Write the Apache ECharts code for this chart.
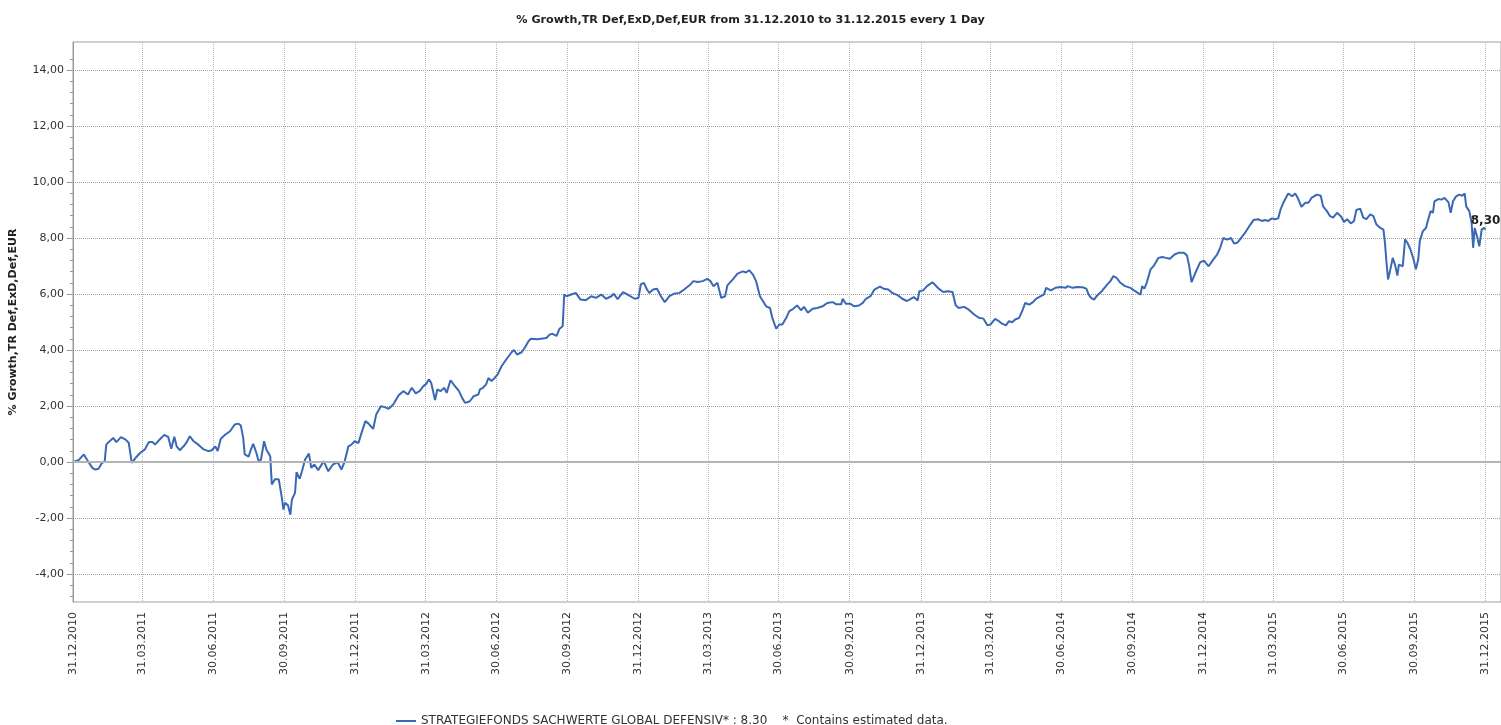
<!DOCTYPE html>
<html>
<head>
  <meta charset="utf-8">
  <script src="https://cdn.jsdelivr.net/npm/echarts@6/dist/echarts.min.js"></script>
  <style>
    html, body { margin: 0; padding: 0; background: #fff; }
    #main { width: 1501px; height: 725px; }
  </style>
</head>
<body>
<div id="main"></div>
<script type="text/javascript">
  // chart data
  var chartTitle = '% Growth,TR Def,ExD,Def,EUR from 31.12.2010 to 31.12.2015 every 1 Day';
  var yName = '% Growth,TR Def,ExD,Def,EUR';
  var seriesName = 'STRATEGIEFONDS SACHWERTE GLOBAL DEFENSIV*';
  var noteText = '*  Contains estimated data.';
  var startDate = '2010-12-31';
  var axisEndDay = 1846;   // right edge of the plot, days after startDate
  var zeroLine = 0;

  var tickLabels = ['31.12.2010', '31.03.2011', '30.06.2011', '30.09.2011', '31.12.2011',
    '31.03.2012', '30.06.2012', '30.09.2012', '31.12.2012', '31.03.2013', '30.06.2013',
    '30.09.2013', '31.12.2013', '31.03.2014', '30.06.2014', '30.09.2014', '31.12.2014',
    '31.03.2015', '30.06.2015', '30.09.2015', '31.12.2015'];
  var yTicks = [-4, -2, 0, 2, 4, 6, 8, 10, 12, 14];
  var yMin = -5, yMax = 15;

  // days after startDate
  var days = [0, 7, 14, 18, 25, 29, 33, 37, 41, 43, 46, 52, 56, 62, 68, 72, 76, 81, 87, 93,
    98, 103, 106, 113, 118, 123, 127, 131, 134, 138, 143, 147, 151, 156, 162, 169, 175, 179, 184, 187,
    191, 197, 203, 209, 214, 217, 220, 222, 227, 230, 233, 237, 240, 243, 247, 250, 253, 255, 257, 261,
    266, 270, 272, 274, 278, 281, 283, 287, 289, 293, 296, 300, 305, 308, 312, 317, 324, 330, 336, 342,
    347, 351, 356, 360, 364, 369, 373, 378, 382, 388, 392, 398, 403, 408, 414, 421, 427, 433, 438, 443,
    448, 453, 457, 460, 463, 468, 471, 475, 480, 483, 488, 493, 499, 503, 507, 513, 518, 524, 526, 530,
    534, 537, 541, 545, 549, 554, 560, 567, 570, 574, 580, 584, 589, 592, 600, 612, 616, 620, 625, 629,
    633, 635, 638, 644, 650, 656, 663, 670, 676, 683, 689, 696, 699, 704, 711, 717, 726, 731, 734, 738,
    742, 745, 750, 755, 760, 765, 771, 777, 784, 790, 797, 802, 808, 814, 820, 824, 828, 833, 838, 843,
    846, 853, 859, 866, 870, 874, 879, 883, 888, 896, 901, 904, 909, 913, 917, 922, 926, 931, 936, 941,
    945, 950, 956, 962, 969, 975, 982, 987, 993, 995, 999, 1005, 1010, 1016, 1021, 1025, 1031, 1036, 1043, 1048,
    1054, 1059, 1066, 1072, 1078, 1083, 1087, 1092, 1094, 1099, 1104, 1111, 1114, 1119, 1125, 1131, 1137, 1141, 1145, 1152,
    1158, 1165, 1171, 1177, 1182, 1186, 1192, 1197, 1201, 1206, 1210, 1214, 1218, 1223, 1227, 1231, 1236, 1241, 1245, 1251,
    1255, 1258, 1264, 1270, 1277, 1283, 1286, 1292, 1298, 1305, 1310, 1313, 1316, 1320, 1324, 1330, 1336, 1341, 1345, 1349,
    1354, 1360, 1367, 1373, 1380, 1382, 1385, 1388, 1393, 1397, 1403, 1408, 1413, 1418, 1424, 1429, 1436, 1440, 1443, 1446,
    1451, 1457, 1462, 1468, 1474, 1479, 1483, 1487, 1492, 1497, 1501, 1505, 1510, 1515, 1522, 1526, 1532, 1537, 1541, 1545,
    1550, 1554, 1558, 1561, 1565, 1569, 1571, 1576, 1580, 1584, 1588, 1593, 1597, 1601, 1608, 1613, 1616, 1621, 1625, 1629,
    1634, 1639, 1643, 1647, 1652, 1656, 1659, 1664, 1668, 1672, 1677, 1681, 1685, 1690, 1694, 1696, 1698, 1700, 1703, 1706,
    1709, 1712, 1714, 1719, 1722, 1725, 1729, 1733, 1736, 1739, 1741, 1745, 1749, 1752, 1755, 1758, 1760, 1765, 1769, 1773,
    1778, 1781, 1784, 1788, 1792, 1796, 1799, 1801, 1805, 1808, 1810, 1812, 1815, 1818, 1821, 1824, 1826];

  // % growth
  var growth = [0.00, 0.06, 0.27, 0.09, -0.21, -0.27, -0.24, -0.05, 0.03, 0.62, 0.71, 0.86, 0.71, 0.89, 0.80, 0.69, -0.03, 0.15, 0.33, 0.45,
    0.71, 0.71, 0.62, 0.83, 0.97, 0.90, 0.47, 0.90, 0.56, 0.42, 0.56, 0.71, 0.92, 0.74, 0.62, 0.45, 0.39, 0.41, 0.56, 0.39,
    0.83, 0.98, 1.10, 1.34, 1.37, 1.30, 0.86, 0.27, 0.19, 0.45, 0.65, 0.33, 0.03, 0.08, 0.74, 0.45, 0.30, 0.20, -0.80, -0.62,
    -0.62, -1.28, -1.70, -1.46, -1.55, -1.88, -1.34, -1.10, -0.36, -0.60, -0.33, 0.09, 0.30, -0.21, -0.09, -0.29, 0.03, -0.33, -0.09, 0.00,
    -0.27, 0.00, 0.56, 0.62, 0.74, 0.68, 1.04, 1.46, 1.37, 1.18, 1.70, 1.99, 1.96, 1.90, 2.05, 2.38, 2.53, 2.41, 2.65, 2.45,
    2.53, 2.71, 2.80, 2.95, 2.83, 2.21, 2.59, 2.53, 2.65, 2.47, 2.92, 2.74, 2.53, 2.29, 2.11, 2.17, 2.35, 2.41, 2.59, 2.65,
    2.77, 3.00, 2.89, 3.00, 3.13, 3.42, 3.66, 3.92, 4.00, 3.84, 3.92, 4.08, 4.32, 4.40, 4.38, 4.43, 4.55, 4.58, 4.50, 4.76,
    4.85, 5.98, 5.92, 5.98, 6.04, 5.80, 5.78, 5.92, 5.86, 5.98, 5.83, 5.92, 6.01, 5.82, 6.07, 5.98, 5.83, 5.86, 6.34, 6.40,
    6.16, 6.04, 6.16, 6.19, 5.92, 5.71, 5.92, 6.01, 6.04, 6.16, 6.31, 6.46, 6.43, 6.46, 6.54, 6.46, 6.28, 6.40, 5.86, 5.92,
    6.31, 6.52, 6.73, 6.81, 6.77, 6.85, 6.69, 6.46, 5.92, 5.56, 5.50, 5.15, 4.76, 4.91, 4.91, 5.15, 5.39, 5.47, 5.59, 5.42,
    5.54, 5.33, 5.47, 5.50, 5.56, 5.68, 5.71, 5.63, 5.63, 5.83, 5.65, 5.65, 5.56, 5.59, 5.68, 5.83, 5.92, 6.16, 6.26, 6.19,
    6.16, 6.04, 5.96, 5.83, 5.75, 5.83, 5.89, 5.77, 6.10, 6.13, 6.28, 6.42, 6.34, 6.19, 6.07, 6.10, 6.07, 5.60, 5.50, 5.54,
    5.44, 5.27, 5.15, 5.12, 4.88, 4.91, 5.11, 5.03, 4.94, 4.88, 5.03, 4.99, 5.09, 5.15, 5.39, 5.68, 5.62, 5.71, 5.83, 5.92,
    5.98, 6.22, 6.13, 6.22, 6.25, 6.22, 6.28, 6.22, 6.25, 6.24, 6.19, 5.98, 5.86, 5.80, 5.95, 6.10, 6.31, 6.46, 6.64, 6.58,
    6.40, 6.28, 6.22, 6.10, 5.98, 6.28, 6.19, 6.40, 6.88, 7.00, 7.29, 7.32, 7.29, 7.26, 7.41, 7.47, 7.47, 7.38, 6.99, 6.42,
    6.76, 7.13, 7.19, 6.99, 7.23, 7.41, 7.65, 8.00, 7.94, 8.00, 7.80, 7.83, 8.00, 8.18, 8.48, 8.64, 8.67, 8.61, 8.64, 8.61,
    8.70, 8.67, 8.70, 9.02, 9.28, 9.49, 9.59, 9.49, 9.59, 9.39, 9.11, 9.26, 9.26, 9.43, 9.55, 9.51, 9.13, 8.96, 8.78, 8.73,
    8.90, 8.78, 8.57, 8.67, 8.52, 8.61, 9.00, 9.05, 8.73, 8.67, 8.84, 8.78, 8.48, 8.36, 8.30, 7.83, 7.11, 6.52, 6.88, 7.29,
    7.05, 6.66, 7.05, 6.99, 7.95, 7.83, 7.59, 7.23, 6.88, 7.23, 7.89, 8.24, 8.36, 8.67, 8.96, 8.90, 9.31, 9.39, 9.37, 9.43,
    9.28, 8.90, 9.31, 9.49, 9.55, 9.51, 9.59, 9.13, 8.96, 8.55, 7.65, 8.36, 8.06, 7.70, 8.30, 8.36, 8.30];

  var DAY = 86400000;
  var t0 = Date.parse(startDate + 'T00:00:00Z');

  function parseDE(s) {
    var p = s.split('.');
    return Date.UTC(+p[2], +p[1] - 1, +p[0]);
  }
  function fmtDE(v) {
    var d = new Date(v);
    var dd = ('0' + d.getUTCDate()).slice(-2);
    var mm = ('0' + (d.getUTCMonth() + 1)).slice(-2);
    return dd + '.' + mm + '.' + d.getUTCFullYear();
  }
  function fmtNum(v) {
    return v.toFixed(2).replace('.', ',');
  }

  var xTicks = tickLabels.map(parseDE);
  var seriesData = days.map(function (d, i) { return [t0 + d * DAY, growth[i]]; });
  var last = seriesData[seriesData.length - 1];

  // minor ticks on the value axis, every 0.4
  var yMinor = [];
  for (var k = 1; k * 0.4 < yMax - yMin; k++) {
    yMinor.push(Math.round((yMin + 0.2 + k * 0.4 - 0.4) * 10) / 10);
  }

  var font = 'DejaVu Sans';
  var myChart = echarts.init(document.getElementById('main'));
  var option = {
    animation: false,
    backgroundColor: '#fff',
    textStyle: { fontFamily: font },
    title: {
      text: chartTitle,
      left: 'center',
      top: 10,
      textStyle: { fontFamily: font, fontSize: 11.2, fontWeight: 'bold', color: '#222' }
    },
    legend: {
      data: [seriesName],
      left: 391,
      top: 710,
      icon: 'rect',
      itemWidth: 20,
      itemHeight: 2,
      itemGap: 5,
      formatter: function (name) {
        return name + ' : ' + last[1].toFixed(2) + '    ' + noteText;
      },
      textStyle: { fontFamily: font, fontSize: 12, color: '#333' }
    },
    grid: {
      left: 71,
      right: 0,
      top: 42,
      bottom: 123,
      show: true,
      borderColor: '#a0a0a0',
      borderWidth: 1
    },
    xAxis: {
      type: 'value',
      min: t0,
      max: t0 + axisEndDay * DAY,
      axisLine: { show: true, lineStyle: { color: '#999' } },
      axisTick: { show: false, customValues: xTicks },
      axisLabel: {
        customValues: xTicks,
        rotate: 90,
        margin: 10,
        fontSize: 11,
        color: '#333',
        formatter: function (v) { return fmtDE(v); }
      },
      splitLine: { show: true, lineStyle: { color: '#b8b8b8', type: 'dotted', width: 1 } }
    },
    yAxis: [{
      type: 'value',
      min: yMin,
      max: yMax,
      name: yName,
      nameLocation: 'middle',
      nameGap: 54,
      nameTextStyle: { fontFamily: font, fontSize: 11, fontWeight: 'bold', color: '#222' },
      axisLine: { show: true, lineStyle: { color: '#999' } },
      axisTick: { show: true, length: 6, customValues: yTicks, lineStyle: { color: '#999' } },
      axisLabel: {
        customValues: yTicks,
        margin: 9,
        fontSize: 11,
        color: '#333',
        formatter: function (v) { return fmtNum(v); }
      },
      splitLine: { show: true, lineStyle: { color: '#a0a0a0', type: 'dotted', width: 1 } }
    }, {
      type: 'value',
      min: yMin,
      max: yMax,
      position: 'left',
      axisLine: { show: false },
      axisTick: { show: true, length: 3, customValues: yMinor, lineStyle: { color: '#999' } },
      axisLabel: { show: false },
      splitLine: { show: false }
    }],
    series: [{
      name: seriesName,
      type: 'line',
      yAxisIndex: 0,
      data: seriesData,
      showSymbol: false,
      symbol: 'none',
      lineStyle: { color: '#3a68b5', width: 2 },
      itemStyle: { color: '#3a68b5' },
      markLine: {
        silent: true,
        symbol: 'none',
        label: { show: false },
        lineStyle: { color: '#b4b4b4', type: 'solid', width: 2 },
        data: [{ yAxis: zeroLine }]
      },
      markPoint: {
        silent: true,
        symbol: 'circle',
        symbolSize: 0,
        label: {
          show: true,
          position: 'top',
          distance: 3,
          fontFamily: font,
          fontSize: 12,
          fontWeight: 'bold',
          color: '#222',
          formatter: function () { return fmtNum(last[1]); }
        },
        data: [{ coord: last }]
      }
    }]
  };
  myChart.setOption(option);
</script>
</body>
</html>
